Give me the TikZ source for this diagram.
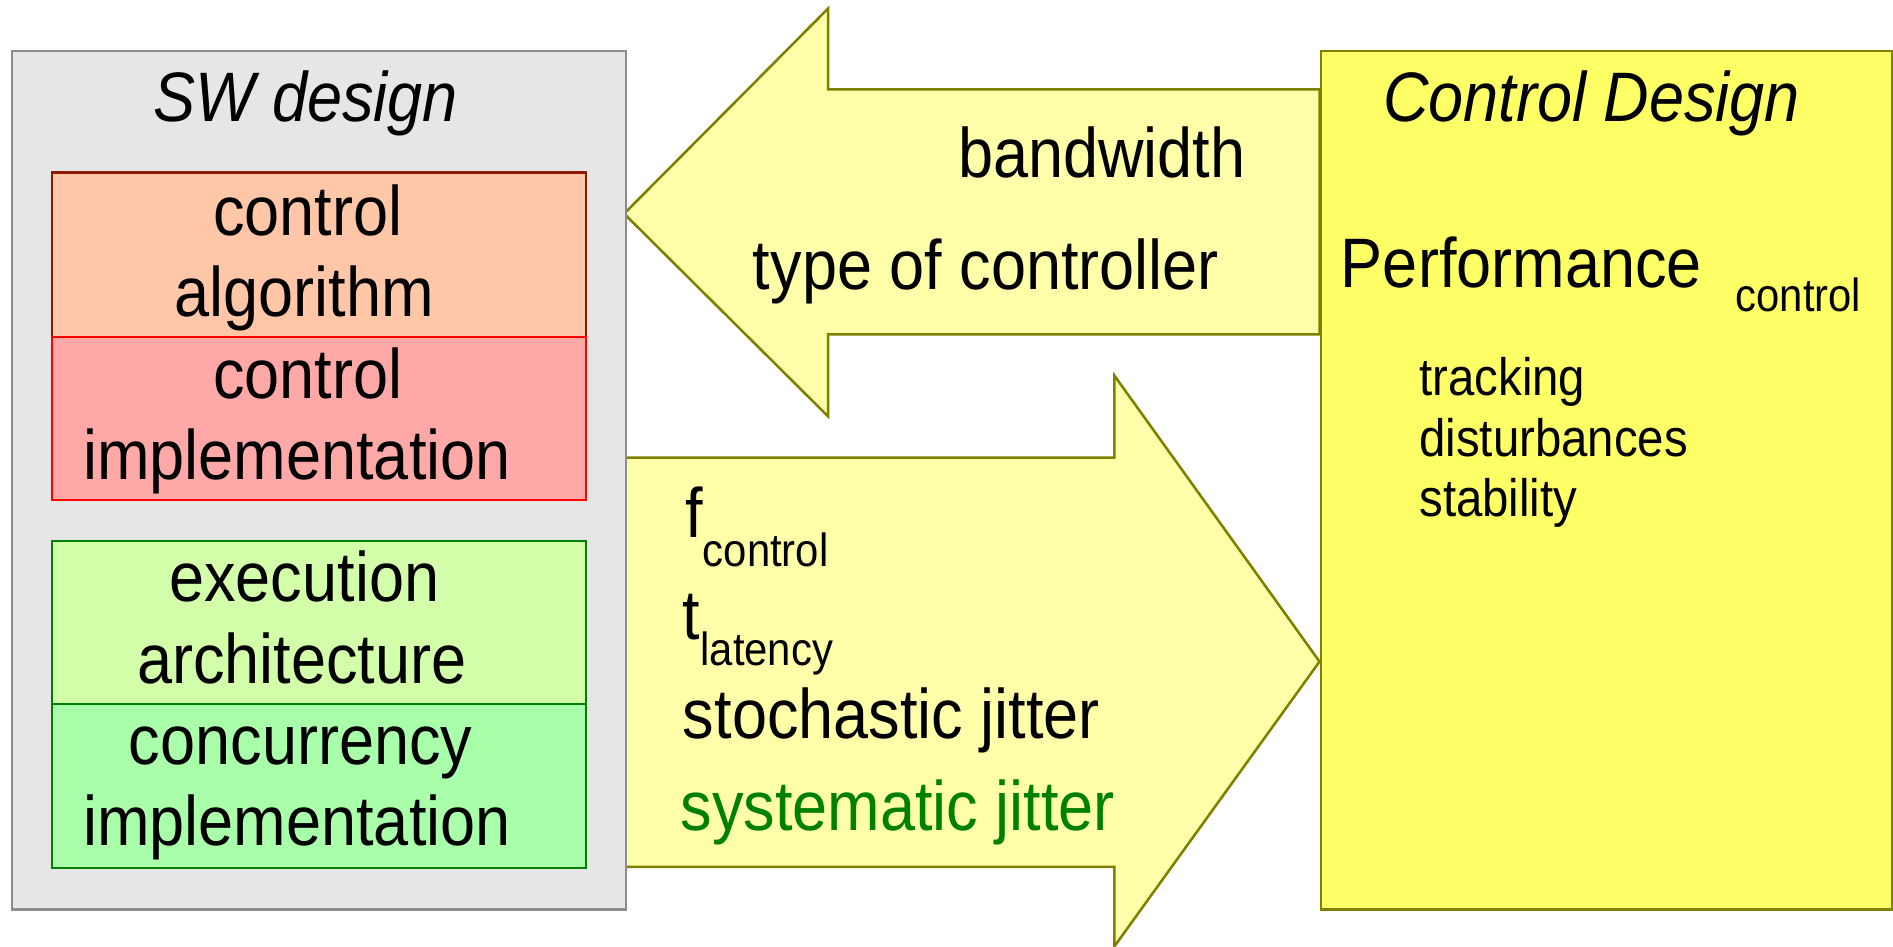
\documentclass[tikz,border=0pt]{standalone}
\usepackage{fontspec}
\setmainfont{Liberation Sans}[FakeStretch=0.9]
\newcommand\szbig{\fontsize{16.5pt}{19pt}\selectfont}
\newcommand\szmid{\fontsize{12.4pt}{14.2pt}\selectfont}
\newcommand\szsub{\fontsize{10.95pt}{12.6pt}\selectfont}
\definecolor{swgrey}{HTML}{E6E6E6}
\definecolor{swborder}{HTML}{8C8C8C}
\definecolor{peach}{HTML}{FFC6A8}
\definecolor{peachborder}{HTML}{8B1A00}
\definecolor{rosy}{HTML}{FFA8A8}
\definecolor{rosyborder}{HTML}{FF0000}
\definecolor{lime}{HTML}{D4FFAA}
\definecolor{mint}{HTML}{AAFFAA}
\definecolor{greenborder}{HTML}{008000}
\definecolor{arrowfill}{HTML}{FFFFAA}
\definecolor{olive}{HTML}{808000}
\definecolor{cdfill}{HTML}{FFFF66}
\definecolor{greentext}{HTML}{008000}
\tikzset{
  box/.style={draw, inner sep=0pt, line width=0.6pt, anchor=north west},
  blockarrow/.style={draw=olive, fill=arrowfill, line width=0.6pt, line join=miter},
  txt/.style={inner sep=0pt, font=\szbig},
  midtxt/.style={inner sep=0pt, font=\szmid, anchor=base west},
}
\begin{document}
\begin{tikzpicture}[x=0.01cm, y=-0.01cm]
\useasboundingbox (0,0) rectangle (1568,784);
% block arrows
\path[blockarrow] (517,177) -- (686,7) -- (686,74) -- (1093,74) -- (1093,277)
  -- (686,277) -- (686,345) -- cycle;
\path[blockarrow] (517,379) -- (923,379) -- (923,311) -- (1093,548) -- (923,784)
  -- (923,718) -- (517,718) -- cycle;
% SW design
\node[box, draw=swborder, fill=swgrey, minimum width=5.08cm, minimum height=7.11cm] (sw) at (9,41) {};
\node[txt, anchor=base, font=\szbig\itshape] (swt) at (253,101) {SW design};
\node[box, draw=peachborder, fill=peach, minimum width=4.42cm, minimum height=1.36cm] (ca) at (42,142) {};
\node[box, draw=rosyborder, fill=rosy, minimum width=4.42cm, minimum height=1.35cm] (ci) at (42,278) {};
\node[box, draw=greenborder, fill=lime, minimum width=4.42cm, minimum height=1.35cm] (ea) at (42,447) {};
\node[box, draw=greenborder, fill=mint, minimum width=4.42cm, minimum height=1.36cm] (cc) at (42,582) {};
\node[txt, anchor=base] (ca1) at (255,195) {control};
\node[txt, anchor=base] (ca2) at (252,262) {algorithm};
\node[txt, anchor=base] (ci1) at (255,330) {control};
\node[txt, anchor=base] (ci2) at (246,397) {implementation};
\node[txt, anchor=base] (ea1) at (252,498) {execution};
\node[txt, anchor=base] (ea2) at (250,566) {architecture};
\node[txt, anchor=base] (cc1) at (249,633) {concurrency};
\node[txt, anchor=base] (cc2) at (246,700) {implementation};
% arrow texts
\node[txt, anchor=base west] (bw) at (793,147) {bandwidth};
\node[txt, anchor=base west] (toc) at (623,240) {type of controller};
\node[txt, anchor=base west] (fc) at (567,445) {f\raisebox{-7pt}{\szsub control}};
\node[txt, anchor=base west] (tl) at (565,530) {t\raisebox{-6pt}{\szsub latency}};
\node[txt, anchor=base west] (sj) at (565,612) {stochastic jitter};
\node[txt, anchor=base west, text=greentext] (syj) at (563,688) {systematic jitter};
% Control design
\node[box, draw=olive, fill=cdfill, minimum width=4.73cm, minimum height=7.11cm] (cd) at (1093,41) {};
\node[txt, anchor=base west, font=\szbig\itshape] (cdt) at (1145,101) {Control Design};
\node[txt, anchor=base west] (perf) at (1110,238) {Performance};
\node[inner sep=0pt, font=\szsub, anchor=base west] (perfsub) at (1437,258) {control};
\node[midtxt] (trk) at (1175,328) {tracking};
\node[midtxt] (dst) at (1175,378) {disturbances};
\node[midtxt] (stb) at (1175,428) {stability};
\end{tikzpicture}
\end{document}
